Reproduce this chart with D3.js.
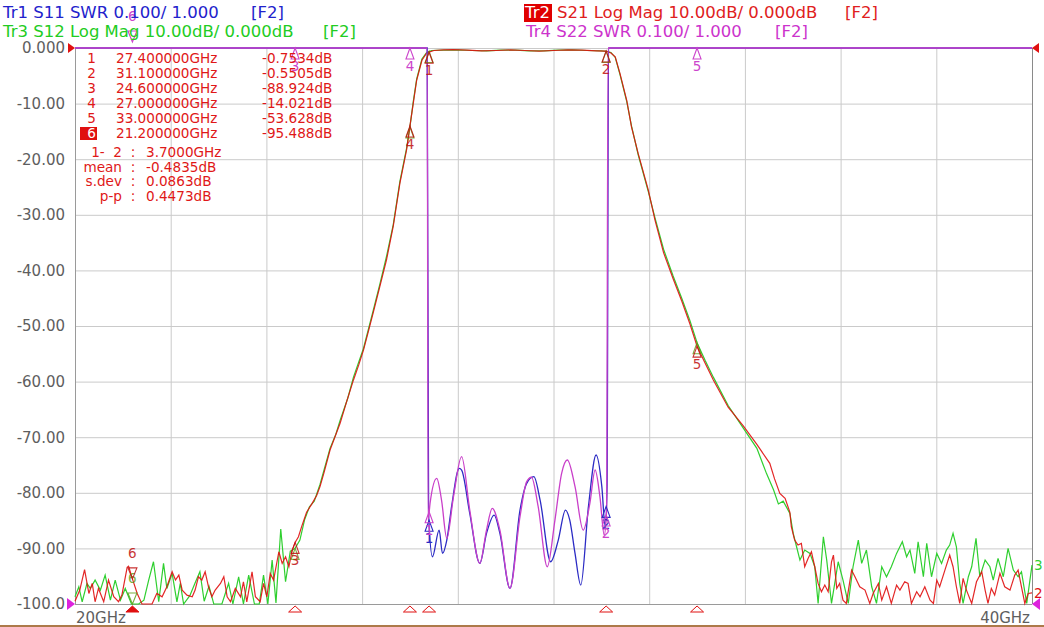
<!DOCTYPE html>
<html>
<head>
<meta charset="utf-8">
<script src="https://cdn.jsdelivr.net/npm/d3@7"></script>
<style>
  body { margin: 0; background: #fff; }
  svg { display: block; }
  text { font-family: "DejaVu Sans", Verdana, sans-serif; }
</style>
</head>
<body>
<svg id="chart" width="1044" height="627"></svg>
<script>
// axis ticks
const yTicks = [0, -10, -20, -30, -40, -50, -60, -70, -80, -90, -100];
const yTickLabels = ["0.000", "-10.00", "-20.00", "-30.00", "-40.00", "-50.00", "-60.00", "-70.00", "-80.00", "-90.00", "-100.0"];
const xTicks = [20, 22, 24, 26, 28, 30, 32, 34, 36, 38, 40];
const xEndLabels = ["20GHz", "40GHz"];

// markers (GHz) and the S21 readout
const markerNums = [1, 2, 3, 4, 5, 6];
const markerFreqs = [27.4, 31.1, 24.6, 27.0, 33.0, 21.2];
const markerS21 = [-0.7534, -0.5505, -88.924, -14.021, -53.628, -95.488];
const markerFreqText = ["27.400000GHz", "31.100000GHz", "24.600000GHz", "27.000000GHz", "33.000000GHz", "21.200000GHz"];
const markerValText = ["-0.7534dB", "-0.5505dB", "-88.924dB", "-14.021dB", "-53.628dB", "-95.488dB"];
const activeMarker = 6;
const statLabels = ["1-  2", "mean", "s.dev", "p-p"];
const statValues = ["3.7000GHz", "-0.4835dB", "0.0863dB", "0.4473dB"];

// Tr2 S21 log mag [GHz, dB]
const s21 = [
  [20.0,-99.5],[20.1,-97.5],[20.2,-93.8],[20.29,-98.1],[20.36,-96.3],[20.42,-99.6],[20.49,-97.2],[20.6,-99.6],
  [20.7,-95.7],[20.81,-98.7],[20.91,-99.6],[20.98,-98.4],[21.09,-93.4],[21.12,-93.2],[21.2,-95.488],[21.3,-98.1],
  [21.4,-100],[21.61,-100],[21.71,-98.1],[21.82,-98.7],[21.92,-96.9],[22.03,-94.2],[22.1,-95.7],[22.17,-94.8],
  [22.24,-97.5],[22.34,-98.4],[22.45,-98.7],[22.51,-97.5],[22.58,-95.1],[22.65,-95.7],[22.72,-94.2],[22.79,-96.9],
  [22.86,-98.7],[22.93,-97.5],[23.04,-96.3],[23.11,-95.1],[23.18,-98.7],[23.25,-99.6],[23.35,-97.2],[23.46,-98.7],
  [23.52,-96.0],[23.59,-99.6],[23.7,-94.2],[23.77,-98.7],[23.87,-99.6],[23.94,-96.3],[24.01,-98.7],[24.08,-94.5],
  [24.15,-95.7],[24.26,-90.6],[24.33,-92.7],[24.4,-91.5],[24.47,-93.3],[24.54,-90.3],[24.6,-88.924],[24.67,-87.9],
  [24.74,-86.0],[24.84,-83.5],[24.95,-82.0],[25.05,-80.5],[25.12,-78.9],[25.2,-76.5],[25.33,-72.3],[25.43,-70.0],
  [25.54,-67.5],[25.68,-63.5],[25.82,-59.7],[25.93,-57.0],[26.03,-54.3],[26.13,-51.0],[26.23,-47.7],[26.37,-42.9],
  [26.51,-38.1],[26.65,-32.1],[26.79,-24.3],[26.93,-18.3],[27.0,-14.021],[27.07,-9.9],[27.14,-5.8],[27.25,-2.2],
  [27.35,-0.9],[27.4,-0.7534],[27.5,-0.45],[27.7,-0.35],[27.9,-0.3],[28.2,-0.4],[28.5,-0.5],[28.8,-0.45],
  [29.1,-0.35],[29.4,-0.45],[29.7,-0.55],[30.0,-0.45],[30.3,-0.35],[30.6,-0.4],[30.9,-0.5],[31.1,-0.5505],
  [31.2,-0.9],[31.29,-1.6],[31.39,-4.6],[31.53,-9.4],[31.63,-14.2],[31.77,-19.0],[31.98,-25.5],[32.12,-30.9],
  [32.3,-36.8],[32.5,-41.5],[32.68,-45.5],[32.85,-49.6],[33.0,-53.628],[33.17,-56.7],[33.34,-59.7],[33.65,-64.6],
  [33.97,-68.0],[34.25,-71.3],[34.52,-74.7],[34.62,-77.5],[34.73,-80.1],[34.84,-81.0],[34.94,-83.5],
  [34.97,-86.1],[35.04,-88.5],[35.11,-89.4],[35.18,-89.1],[35.25,-93.3],[35.32,-91.8],[35.39,-90.6],[35.46,-93.3],
  [35.53,-96.3],[35.6,-97.8],[35.67,-96.6],[35.74,-97.8],[35.81,-92.4],[35.85,-91.2],[35.92,-97.2],[35.98,-96.3],
  [36.05,-99.3],[36.12,-99.9],[36.23,-93.9],[36.3,-95.1],[36.4,-96.9],[36.51,-97.5],[36.61,-99.9],[36.68,-98.1],
  [36.79,-96.3],[36.86,-99.3],[36.96,-96.9],[37.06,-99.9],[37.17,-96.6],[37.24,-97.5],[37.34,-96.0],[37.41,-96.3],
  [37.48,-99.9],[37.59,-97.8],[37.66,-98.7],[37.76,-96.9],[37.87,-99.3],[37.94,-99.9],[38.01,-95.7],[38.07,-96.9],
  [38.18,-93.9],[38.28,-91.2],[38.35,-93.3],[38.42,-96.9],[38.49,-99.9],[38.56,-95.4],[38.63,-97.5],[38.74,-99.9],
  [38.84,-96.0],[38.95,-94.2],[39.02,-97.5],[39.08,-99.9],[39.15,-97.2],[39.22,-98.4],[39.33,-94.5],[39.43,-96.9],
  [39.54,-97.5],[39.64,-94.8],[39.71,-93.9],[39.78,-96.9],[39.85,-99.9],[39.92,-98.1],[40.0,-98.0]
];

// Tr3 S12 log mag [GHz, dB]
const s12 = [
  [20.0,-98.7],[20.08,-96.9],[20.15,-99.6],[20.25,-96.3],[20.32,-97.2],[20.42,-95.7],[20.53,-97.5],[20.63,-94.8],
  [20.74,-99.3],[20.84,-95.7],[20.95,-99.3],[21.05,-97.2],[21.18,-100],[21.33,-100],[21.44,-99.3],[21.54,-95.7],
  [21.64,-92.4],[21.75,-99.6],[21.85,-92.7],[21.92,-97.2],[22.03,-94.5],[22.13,-99.6],[22.2,-96.3],[22.27,-100],
  [22.4,-98.5],[22.52,-96.0],[22.61,-94.2],[22.7,-99.5],[22.8,-96.8],[22.9,-100],[23.07,-100],[23.21,-96.3],
  [23.3,-100],[23.42,-95.1],[23.52,-100],[23.63,-94.8],[23.75,-100],[23.85,-100],[23.94,-94.8],[24.03,-100],
  [24.12,-92.1],[24.2,-99.8],[24.3,-86.5],[24.4,-96.0],[24.5,-90.5],[24.6,-90.0],[24.7,-88.5],[24.8,-84.8],
  [24.9,-82.5],[25.0,-81.5],[25.12,-78.5],[25.25,-74.5],[25.33,-72.0],[25.45,-69.5],[25.54,-67.0],[25.7,-63.0],
  [25.82,-59.2],[26.03,-54.0],[26.23,-47.3],[26.37,-42.5],[26.51,-37.5],[26.65,-31.8],[26.79,-24.0],[26.93,-18.0],
  [27.0,-14.2],[27.07,-9.6],[27.14,-5.6],[27.25,-2.0],[27.35,-0.8],[27.45,-0.45],[27.7,-0.4],[28.0,-0.35],
  [28.3,-0.45],[28.6,-0.5],[28.9,-0.4],[29.2,-0.4],[29.5,-0.5],[29.8,-0.5],[30.1,-0.4],[30.4,-0.35],
  [30.7,-0.45],[31.0,-0.5],[31.1,-0.6],[31.2,-0.8],[31.29,-1.7],[31.39,-4.8],[31.53,-9.6],[31.63,-14.0],
  [31.77,-19.2],[31.98,-25.8],[32.12,-30.5],[32.3,-36.2],[32.5,-41.0],[32.68,-45.0],[32.85,-49.0],[33.0,-53.0],
  [33.17,-56.2],[33.34,-59.2],[33.65,-64.3],[33.97,-68.4],[34.25,-72.0],[34.45,-76.5],[34.6,-79.5],[34.7,-82.0],
  [34.8,-81.5],
  [34.94,-83.7],[35.01,-87.3],[35.08,-89.7],[35.15,-92.1],[35.25,-90.3],[35.36,-90.9],[35.46,-93.3],[35.53,-99.9],
  [35.64,-87.9],[35.71,-92.1],[35.81,-99.9],[35.95,-92.4],[36.05,-95.7],[36.16,-99.9],[36.26,-93.3],[36.37,-88.5],
  [36.44,-92.7],[36.54,-90.3],[36.65,-96.9],[36.75,-99.9],[36.86,-93.3],[36.96,-95.1],[37.06,-93.3],[37.17,-90.9],
  [37.29,-88.8],[37.38,-91.5],[37.45,-90.3],[37.55,-94.5],[37.62,-88.8],[37.73,-95.1],[37.8,-89.1],[37.9,-95.1],
  [38.01,-90.9],[38.11,-92.7],[38.21,-90.3],[38.28,-89.4],[38.35,-87.3],[38.42,-89.7],[38.49,-96.3],[38.56,-99.9],
  [38.67,-95.1],[38.74,-93.3],[38.83,-88.2],[38.91,-95.1],[39.02,-92.1],[39.12,-93.3],[39.19,-95.7],[39.29,-91.8],
  [39.4,-95.1],[39.5,-90.0],[39.61,-93.9],[39.71,-95.1],[39.78,-94.2],[39.89,-99.9],[40.0,-93.0]
];

// Tr1 S11 SWR [GHz, SWR] (2.0 = top of screen, clipped)
const s11 = [
  [20.0,2.0],[27.36,2.0],[27.39,1.16],[27.47,1.085],[27.61,1.133],[27.68,1.091],[27.77,1.115],[27.87,1.175],
  [28.03,1.244],[28.08,1.241],[28.25,1.163],[28.46,1.073],[28.6,1.127],[28.76,1.160],[28.88,1.127],[29.09,1.028],
  [29.3,1.169],[29.44,1.217],[29.59,1.229],[29.72,1.187],[29.94,1.076],[30.1,1.115],[30.25,1.169],[30.34,1.151],
  [30.45,1.091],[30.57,1.034],[30.73,1.175],[30.89,1.268],[31.01,1.211],[31.08,1.140],[31.12,1.211],[31.15,2.0],
  [40.0,2.0]
];

// Tr4 S22 SWR [GHz, SWR]
const s22 = [
  [20.0,2.0],[27.36,2.0],[27.38,1.151],[27.42,1.181],[27.56,1.226],[27.66,1.187],[27.77,1.118],[27.91,1.193],
  [28.08,1.265],[28.25,1.169],[28.46,1.073],[28.6,1.133],[28.72,1.172],[28.88,1.133],[29.09,1.028],[29.3,1.157],
  [29.44,1.220],[29.54,1.228],[29.68,1.175],[29.87,1.067],[30.03,1.151],[30.17,1.235],[30.29,1.259],[30.45,1.211],
  [30.62,1.133],[30.76,1.181],[30.87,1.241],[30.97,1.193],[31.06,1.124],[31.11,1.169],[31.14,2.0],[40.0,2.0]
];

const svg = d3.select("#chart");
const plot = {left: 75, right: 1032, top: 48, bottom: 604};

const x = d3.scaleLinear().domain([20, 40]).range([plot.left, plot.right]);
const y = d3.scaleLinear().domain([-100, 0]).range([plot.bottom, plot.top]).clamp(true);
const ySwr = d3.scaleLinear().domain([1, 2]).range([plot.bottom, plot.top]).clamp(true);

const colS11 = "#2b2bc4", colS21 = "#e01010", colS12 = "#2fcf2f", colS22 = "#c93fc9";
const colMk21 = "#c01010", colMk12 = "#5a9a10";

// grid
svg.append("g")
    .attr("transform", "translate(0," + plot.bottom + ")")
    .call(d3.axisBottom(x).tickValues(xTicks).tickSize(-(plot.bottom - plot.top)).tickFormat(""))
    .call(g => g.select(".domain").remove())
    .call(g => g.selectAll("line").attr("stroke", "#cacaca"));

svg.append("g")
    .attr("transform", "translate(" + plot.left + ",0)")
    .call(d3.axisLeft(y).tickValues(yTicks).tickSize(-(plot.right - plot.left)).tickFormat(""))
    .call(g => g.select(".domain").remove())
    .call(g => g.selectAll("line").attr("stroke", "#cacaca"));

// frame
svg.append("line").attr("x1", plot.left + 0.5).attr("x2", plot.left + 0.5)
    .attr("y1", plot.top).attr("y2", plot.bottom).attr("stroke", "#9a9a9a");
svg.append("line").attr("x1", plot.right + 0.5).attr("x2", plot.right + 0.5)
    .attr("y1", plot.top).attr("y2", plot.bottom).attr("stroke", "#8a8a8a");
svg.append("line").attr("x1", plot.left).attr("x2", plot.right)
    .attr("y1", plot.bottom + 0.5).attr("y2", plot.bottom + 0.5).attr("stroke", "#9a9a9a");

// y labels
svg.append("g")
    .attr("transform", "translate(" + plot.left + ",0)")
    .call(d3.axisLeft(y).tickValues(yTicks).tickSize(0).tickPadding(10)
        .tickFormat((d, i) => yTickLabels[i]))
    .call(g => g.select(".domain").remove())
    .call(g => g.selectAll("text")
        .attr("fill", "#5e5e5e")
        .style("font-size", "15px")
        .style("font-family", "'DejaVu Sans', Verdana, sans-serif"));

// x end labels
svg.append("text").attr("x", x(20) + 1).attr("y", 623)
    .attr("fill", "#5e5e5e").style("font-size", "15px").text(xEndLabels[0]);
svg.append("text").attr("x", x(40) - 2).attr("y", 623).attr("text-anchor", "end")
    .attr("fill", "#5e5e5e").style("font-size", "15px").text(xEndLabels[1]);

// window border
svg.append("rect").attr("x", 0).attr("y", 625).attr("width", 1044).attr("height", 2).attr("fill", "#ad7a4a");

// traces
const lineDb = d3.line().x(d => x(d[0])).y(d => y(d[1]));
const lineSwr = d3.line().x(d => x(d[0])).y(d => ySwr(d[1])).curve(d3.curveMonotoneX);

svg.append("path").datum(s12).attr("d", lineDb)
    .attr("fill", "none").attr("stroke", colS12).attr("stroke-width", 1.2);
svg.append("path").datum(s21).attr("d", lineDb)
    .attr("fill", "none").attr("stroke", colS21).attr("stroke-width", 1.2).attr("stroke-opacity", 0.9);
svg.append("path").datum(s11).attr("d", lineSwr)
    .attr("fill", "none").attr("stroke", colS11).attr("stroke-width", 1.3);
svg.append("path").datum(s22).attr("d", lineSwr)
    .attr("fill", "none").attr("stroke", colS22).attr("stroke-width", 1.3);

// marker helpers
function valueAt(data, f) {
  const i = d3.bisector(d => d[0]).left(data, f);
  if (i <= 0) return data[0][1];
  if (i >= data.length) return data[data.length - 1][1];
  const a = data[i - 1], b = data[i];
  return a[1] + (b[1] - a[1]) * (f - a[0]) / (b[0] - a[0]);
}

function drawMarker(g, px, py, num, color, active, opacity, withLabel) {
  const mg = g.append("g").attr("opacity", opacity || 1);
  if (active) {
    mg.append("path")
        .attr("d", `M${px},${py}L${px - 4.5},${py - 11}L${px + 4.5},${py - 11}Z`)
        .attr("fill", "none").attr("stroke", color).attr("stroke-width", 1.1);
    if (withLabel) mg.append("text").attr("x", px).attr("y", py - 21).attr("text-anchor", "middle")
        .attr("fill", color).style("font-size", "13.5px").text(num);
  } else {
    mg.append("path")
        .attr("d", `M${px},${py}L${px - 4},${py + 11}L${px + 4},${py + 11}Z`)
        .attr("fill", "none").attr("stroke", color).attr("stroke-width", 1.1);
    if (withLabel) mg.append("text").attr("x", px).attr("y", py + 23).attr("text-anchor", "middle")
        .attr("fill", color).style("font-size", "13.5px").text(num);
  }
}

const mk = svg.append("g");
markerNums.forEach((n, i) => {
  const f = markerFreqs[i], act = n === activeMarker;
  const v11 = valueAt(s11, f), v22 = valueAt(s22, f);
  // SWR markers off the top of the screen sit just above the grid
  const py22 = v22 >= 2 ? (act ? plot.top - 6 : plot.top) : ySwr(v22);
  if (v11 < 2) drawMarker(mk, x(f), ySwr(v11), n, colS11, act, 1, true);
  drawMarker(mk, x(f), py22, n, "#cc44cc", act, 1, true);
  const p12 = y(valueAt(s12, f)), p21 = y(markerS21[i]);
  drawMarker(mk, x(f), p12, n, colMk12, act, 0.8, Math.abs(p12 - p21) > 14);
  drawMarker(mk, x(f), p21, n, colMk21, act, 0.85, true);
});

// marker position indicators under the grid
markerNums.forEach((n, i) => {
  const px = x(markerFreqs[i]);
  svg.append("path")
      .attr("d", `M${px},${plot.bottom + 2}L${px - 6.5},${plot.bottom + 8}L${px + 6.5},${plot.bottom + 8}Z`)
      .attr("fill", n === activeMarker ? "#e01010" : "#fff")
      .attr("stroke", "#e01010").attr("stroke-width", 1);
});

// reference position arrows
svg.append("path").attr("d", `M${plot.left - 7},${y(0) - 5}L${plot.left},${y(0)}L${plot.left - 7},${y(0) + 5}Z`).attr("fill", "#e01010");
svg.append("path").attr("d", `M${plot.left - 8},${ySwr(1) - 6}L${plot.left},${ySwr(1)}L${plot.left - 8},${ySwr(1) + 6}Z`).attr("fill", "#dd22dd");
svg.append("path").attr("d", `M${plot.right + 8},${ySwr(1) - 6}L${plot.right},${ySwr(1)}L${plot.right + 8},${ySwr(1) + 6}Z`).attr("fill", "#dd22dd");
svg.append("path").attr("d", `M${plot.right + 7},${y(0) - 5}L${plot.right},${y(0)}L${plot.right + 7},${y(0) + 5}Z`).attr("fill", "#e01010");

// trace end labels
svg.append("text").attr("x", plot.right + 2).attr("y", y(s12[s12.length - 1][1]) + 5)
    .attr("fill", colS12).style("font-size", "13.5px").text("3");
svg.append("text").attr("x", plot.right + 2).attr("y", y(s21[s21.length - 1][1]) + 5)
    .attr("fill", colS21).style("font-size", "13.5px").text("2");

// marker table
const tbl = svg.append("g").attr("fill", "#e01818").style("font-size", "13.6px");
markerNums.forEach((n, i) => {
  const by = 63 + i * 15;
  if (n === activeMarker) {
    tbl.append("rect").attr("x", 80).attr("y", by - 11).attr("width", 17).attr("height", 13).attr("fill", "#e01010");
  }
  tbl.append("text").attr("x", 91.5).attr("y", by).attr("text-anchor", "middle")
      .attr("fill", n === activeMarker ? "#fff" : "#e01818").text(n);
  tbl.append("text").attr("x", 116).attr("y", by).text(markerFreqText[i]);
  tbl.append("text").attr("x", 262).attr("y", by).text(markerValText[i]);
});
statLabels.forEach((s, i) => {
  const by = 157 + i * 14.5;
  tbl.append("text").attr("x", 122).attr("y", by).attr("text-anchor", "end")
      .style("white-space", "pre").text(s);
  tbl.append("text").attr("x", 133).attr("y", by).attr("text-anchor", "middle").text(":");
  tbl.append("text").attr("x", 146).attr("y", by).text(statValues[i]);
});

// header lines
const hdr = svg.append("g").style("font-size", "16.5px");
hdr.append("text").attr("x", 3).attr("y", 17.5).attr("fill", "#2222cc").text("Tr1 S11 SWR 0.100/ 1.000");
hdr.append("text").attr("x", 251).attr("y", 17.5).attr("fill", "#2222cc").text("[F2]");
hdr.append("text").attr("x", 3).attr("y", 36.5).attr("fill", "#22cc22").text("Tr3 S12 Log Mag 10.00dB/ 0.000dB");
hdr.append("text").attr("x", 323).attr("y", 36.5).attr("fill", "#22cc22").text("[F2]");
hdr.append("rect").attr("x", 524).attr("y", 4).attr("width", 28).attr("height", 18).attr("fill", "#e00000");
hdr.append("text").attr("x", 525).attr("y", 17.5).attr("fill", "#fff").text("Tr2");
hdr.append("text").attr("x", 557).attr("y", 17.5).attr("fill", "#e02020").text("S21 Log Mag 10.00dB/ 0.000dB");
hdr.append("text").attr("x", 845).attr("y", 17.5).attr("fill", "#e02020").text("[F2]");
hdr.append("text").attr("x", 526).attr("y", 36.5).attr("fill", "#cc33cc").text("Tr4 S22 SWR 0.100/ 1.000");
hdr.append("text").attr("x", 775).attr("y", 36.5).attr("fill", "#cc33cc").text("[F2]");
</script>
</body>
</html>
